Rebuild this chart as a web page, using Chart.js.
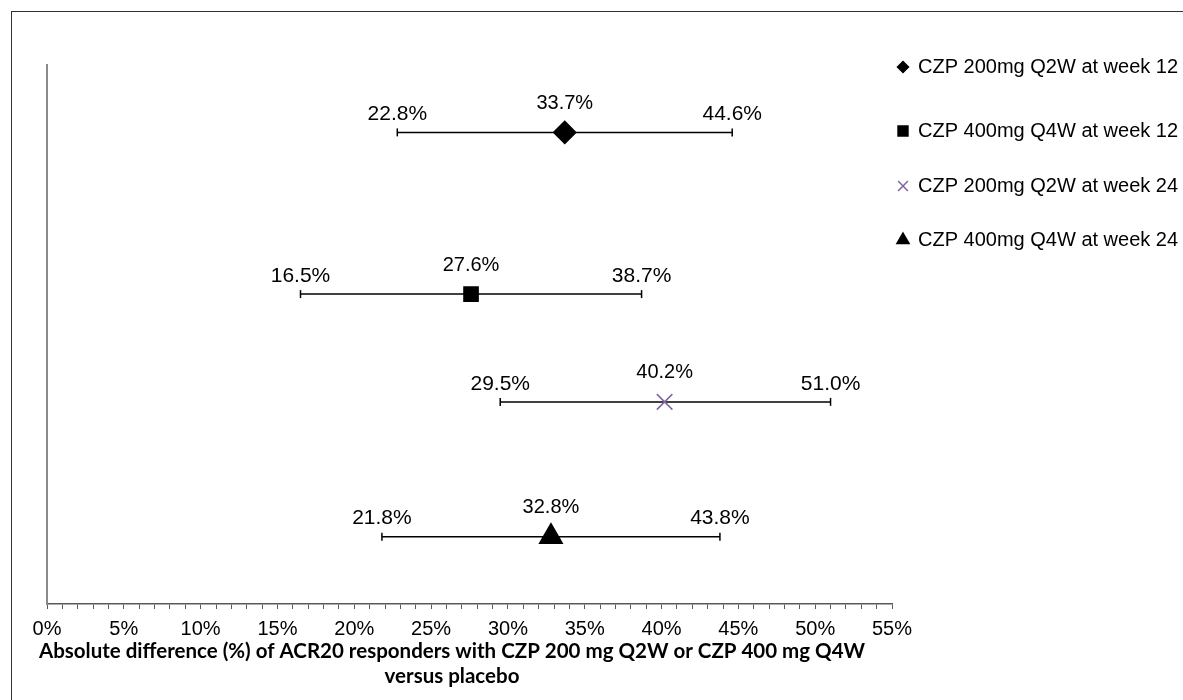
<!DOCTYPE html>
<html>
<head>
<meta charset="utf-8">
<script src="https://cdn.jsdelivr.net/npm/chart.js@4.4.1/dist/chart.umd.min.js"></script>
<style>
html,body{margin:0;padding:0;background:#fff;overflow:hidden;}
#frame{position:absolute;left:11px;top:11px;width:1400px;height:900px;border:1px solid #333;}
#wrap{position:absolute;left:0;top:0;width:1183px;height:700px;}
</style>
</head>
<body>
<div id="frame"></div>
<div id="wrap"><canvas id="chart"></canvas></div>
<script>

const groups = [
    'CZP 200mg Q2W at week 12',
    'CZP 400mg Q4W at week 12',
    'CZP 200mg Q2W at week 24',
    'CZP 400mg Q4W at week 24'
];
const estimates = [33.7, 27.6, 40.2, 32.8];
const lowerCI = [22.8, 16.5, 29.5, 21.8];
const upperCI = [44.6, 38.7, 51.0, 43.8];
const rowPos = [7, 4.6, 3, 1];
const axisTitle = [
    'Absolute difference (%) of ACR20 responders with CZP 200 mg Q2W or CZP 400 mg Q4W',
    'versus placebo'
];

const FONT = '"Liberation Sans", Arial, sans-serif';

// marker looks, one per group
const markers = [
    {style: 'rectRot', radius: 11, legendRadius: 5.5, color: '#000000', fill: '#000000'},
    {style: 'rect', radius: 10, legendRadius: 7, color: '#000000', fill: '#000000'},
    {style: 'crossRot', radius: 11, legendRadius: 7, color: '#8064A2', fill: 'rgba(0,0,0,0)'},
    {style: 'triangle', radius: 13, legendRadius: 7, color: '#000000', fill: '#000000'}
];
// legend row centres (px)
const legendRows = [67, 131, 186, 240];

function fmt(v){
    return v.toFixed(1) + '%';
}

let datasets = [];
groups.forEach((g, i) => {
    datasets.push({
        label: g,
        data: [{x: estimates[i], y: rowPos[i]}],
        pointStyle: markers[i].style,
        pointRadius: markers[i].radius,
        pointHoverRadius: markers[i].radius,
        backgroundColor: markers[i].fill,
        borderColor: markers[i].color,
        borderWidth: 1.5,
        order: 1
    });
});
groups.forEach((g, i) => {
    datasets.push({
        label: g + ' CI',
        data: [{x: lowerCI[i], y: rowPos[i]}, {x: upperCI[i], y: rowPos[i]}],
        showLine: true,
        borderColor: '#000',
        borderWidth: 1.5,
        pointStyle: 'line',
        pointRotation: 90,
        pointRadius: 4,
        pointHoverRadius: 4,
        pointBorderColor: '#000',
        pointBorderWidth: 1.5,
        order: 2
    });
});

const extras = {
    id: 'extras',
    afterDatasetsDraw(chart){
        const ctx = chart.ctx;
        const x = chart.scales.x;
        const y = chart.scales.y;
        ctx.save();
        ctx.fillStyle = '#000';
        ctx.textAlign = 'center';
        ctx.textBaseline = 'middle';
        for(let i = 0; i < groups.length; i++){
            const py = y.getPixelForValue(rowPos[i]);
            ctx.font = '21px ' + FONT;
            ctx.fillText(fmt(lowerCI[i]), x.getPixelForValue(lowerCI[i]), py - 18);
            ctx.fillText(fmt(upperCI[i]), x.getPixelForValue(upperCI[i]), py - 18);
            ctx.font = '20px ' + FONT;
            ctx.fillText(fmt(estimates[i]), x.getPixelForValue(estimates[i]), py - 29);
        }

        // legend
        ctx.textAlign = 'left';
        for(let i = 0; i < groups.length; i++){
            const ly = legendRows[i];
            ctx.fillStyle = markers[i].fill;
            ctx.strokeStyle = markers[i].color;
            ctx.lineWidth = 1.5;
            Chart.helpers.drawPoint(ctx, {
                pointStyle: markers[i].style,
                radius: markers[i].legendRadius,
                rotation: 0,
                borderWidth: 1.5
            }, 903, ly);
            ctx.fillStyle = '#000';
            ctx.font = '20px ' + FONT;
            ctx.fillText(groups[i], 918, ly);
        }

        // axis title
        ctx.textAlign = 'center';
        ctx.font = 'bold 20.5px Lato, "Open Sans", sans-serif';
        ctx.fillText(axisTitle[0], 452, 651);
        ctx.fillText(axisTitle[1], 452, 676);
        ctx.restore();
    }
};

new Chart(
    document.getElementById('chart'),
    {
        type: 'scatter',
        data: {datasets: datasets},
        options: {
            maintainAspectRatio: false,
            animation: false,
            layout: {
                padding: {left: 39, right: 291, top: 65, bottom: 51}
            },
            plugins: {
                legend: {display: false},
                tooltip: {enabled: false}
            },
            scales: {
                x: {
                    type: 'linear',
                    min: 0,
                    max: 55,
                    grid: {
                        display: true,
                        drawOnChartArea: false,
                        drawTicks: true,
                        tickLength: 5,
                        tickColor: '#595959',
                        tickWidth: 1
                    },
                    border: {display: true, color: '#595959', width: 1.5},
                    ticks: {
                        stepSize: 1,
                        autoSkip: false,
                        maxRotation: 0,
                        padding: 8,
                        color: '#000',
                        font: {size: 20, family: FONT},
                        callback: v => (v % 5 === 0 ? v + '%' : '')
                    }
                },
                y: {
                    type: 'linear',
                    min: 0,
                    max: 8,
                    grid: {display: false},
                    border: {display: true, color: '#8a8a8a', width: 2},
                    ticks: {display: false}
                }
            }
        },
        plugins: [extras]
    }
);
</script>
</body>
</html>
